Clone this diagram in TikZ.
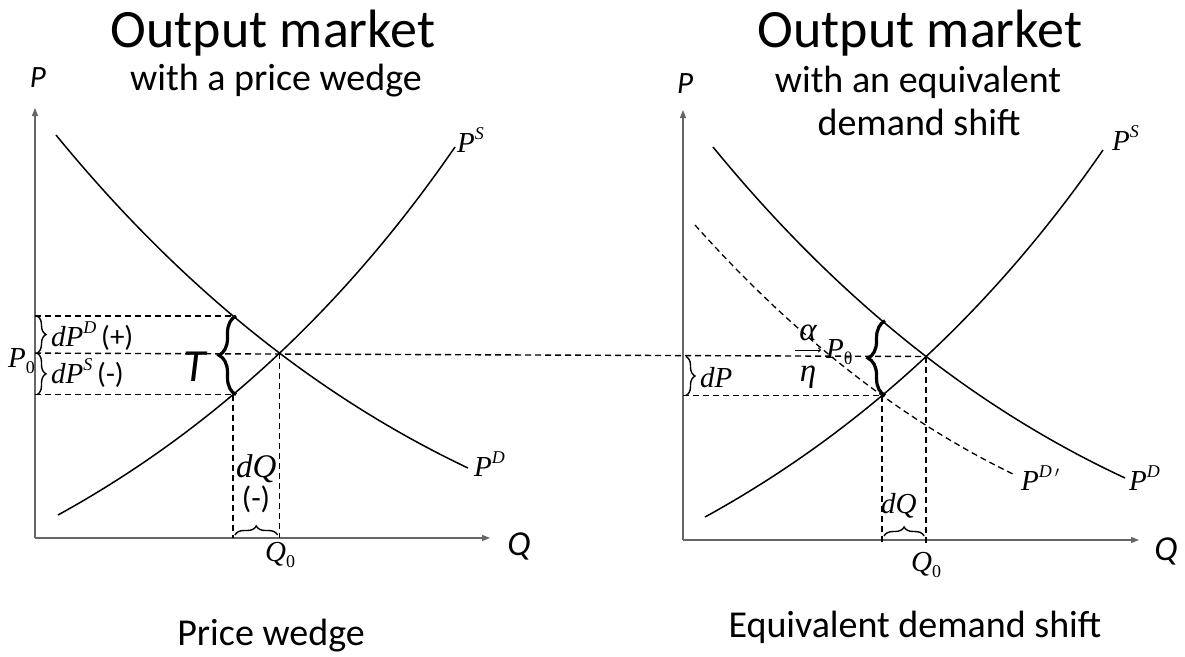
\documentclass[tikz,border=0pt]{standalone}
\usepackage{fontspec}
\usepackage{graphicx}
\setmainfont{Carlito}
\newfontfamily\tnr{Liberation Serif}
\usetikzlibrary{intersections,decorations.pathreplacing,arrows.meta,calc}
\newcommand\fsz[1]{\fontsize{#1}{#1}\selectfont}
\newcommand\sups[1]{\raisebox{0.42em}{\scalebox{0.62}{#1}}}
\newcommand\subs[1]{\raisebox{-0.22em}{\scalebox{0.62}{#1}}}
\begin{document}
\begin{tikzpicture}[x=1pt,y=-1pt,
 curve/.style={line width=1.5pt},
 dline/.style={line width=1.4pt, dash pattern=on 6pt off 4pt},
 axis/.style={line width=1.2pt, draw=black!60, -{Triangle[length=8pt,width=6pt]}},
 sbrace/.style={decorate, decoration={brace, amplitude=#1}, line width=1.4pt},
 bbrace/.style={decorate, decoration={brace, amplitude=17pt}, line width=3.2pt},
 ttl/.style={font=\fsz{54}, inner sep=0pt, anchor=base},
 subttl/.style={font=\fsz{38}, inner sep=0pt, anchor=base},
 bottomcap/.style={font=\fsz{38}, inner sep=0pt, anchor=base},
 axlab/.style={font=\fsz{31}\itshape, inner sep=0pt, anchor=base},
 lab/.style={font=\fsz{29}\tnr\itshape, inner sep=0pt, anchor=base west},
 sans/.style={font=\fsz{29}, inner sep=0pt, anchor=base}]
\useasboundingbox (0,0) rectangle (1185,656);
\fill[white] (0,0) rectangle (1185,656);
\coordinate (top) at (0,100);
\coordinate (bot) at (0,545);
% ---------- left chart ----------
\coordinate (LO) at (35,538);
\coordinate (LYt) at (35,108);
\coordinate (LXt) at (490,538);
\draw[axis] (LO) -- (LYt);
\draw[axis] (LO) -- (LXt);
\draw[curve, name path=LD] (56,135) .. controls (178.7,285) and (316,396) .. (468,468);
\draw[curve, name path=LS] (58,515) .. controls (212,430.3) and (344.3,307.7) .. (455,147);
\path[name intersections={of=LD and LS, by=LE}];
\path[name path=LV] (233,100) -- (233,545);
\path[name intersections={of=LV and LD, by=LD1}];
\path[name intersections={of=LV and LS, by=LS1}];
\coordinate (LbA) at (LO |- LD1);
\coordinate (LbB) at (LO |- LE);
\coordinate (LbC) at (LO |- LS1);
\coordinate (LqA) at (LS1 |- LO);
\coordinate (LqB) at (LE |- LO);
\draw[dline] (LbA) -- (LD1);
\draw[dline] (LbC) -- (LS1);
\draw[dline] (LS1) -- (LqA);
\draw[dline] (LE) -- (LqB);
\draw[sbrace=9pt] ($(LbA)+(2,0)$) -- ($(LbB)+(2,0)$);
\draw[sbrace=9pt] ($(LbB)+(2,0)$) -- ($(LbC)+(2,0)$);
\draw[bbrace] ($(LS1)+(3,0)$) -- ($(LD1)+(3,0)$);
\draw[sbrace=9pt] ($(LqA)+(2,-3)$) -- ($(LqB)+(-2,-3)$);
% ---------- right chart ----------
\coordinate (RO) at (683,540);
\coordinate (RYt) at (683,110);
\coordinate (RXt) at (1139,540);
\draw[axis] (RO) -- (RYt);
\draw[axis] (RO) -- (RXt);
\draw[curve, name path=RD] (713,147) .. controls (835.7,297) and (973,407.3) .. (1125,478);
\draw[curve, name path=RS] (705,517) .. controls (860.3,431.7) and (993,309.3) .. (1103,150);
\draw[dline, line width=1.3pt, name path=RDd] (695,225) .. controls (795,337) and (901.7,420.3) .. (1015,475);
\path[name intersections={of=RD and RS, by=RE}];
\path[name intersections={of=RDd and RS, by=RE1}];
\path[name path=RV] (RE1 |- top) -- (RE1 |- bot);
\path[name intersections={of=RV and RD, by=RD1}];
\coordinate (RbA) at (RO |- RE);
\coordinate (RbB) at (RO |- RE1);
\coordinate (RqA) at (RE1 |- RO);
\coordinate (RqB) at (RE |- RO);
\draw[dline] (LbB) -- (RE);
\draw[dline] (RbB) -- (RE1);
\draw[dline] (RE1) -- (RE1 |- bot);
\draw[dline] (RE) -- (RE |- bot);
\draw[sbrace=9pt] ($(RbA)+(3,0)$) -- ($(RbB)+(3,0)$);
\draw[bbrace] ($(RE1)+(3,0)$) -- ($(RD1)+(3,0)$);
\draw[sbrace=9pt] ($(RqA)+(2,-4)$) -- ($(RqB)+(-2,-4)$);
\coordinate (aa) at (795,350);
\coordinate (ab) at (821,350);
\draw[line width=1pt, -{To[length=3pt,width=5pt]}] (aa) -- (ab);
% ---------- texts ----------
\node[ttl] (t1L) at (273,47) {Output market};
\node[subttl] (t2L) at (276,90) {with a price wedge};
\node[ttl] (t1R) at (920,47) {Output market};
\node[subttl] (t2R) at (918,92) {with an equivalent};
\node[subttl] (t3R) at (919,135) {demand shift};
\node[bottomcap] (cL) at (271,645) {Price wedge};
\node[bottomcap] (cR) at (915,637) {Equivalent demand shift};
\node[axlab] (PL) at (38,87) {P};
\node[axlab, font=\fsz{35}\itshape] (QL) at (519,555) {Q};
\node[axlab] (PR) at (685,93) {P};
\node[axlab, font=\fsz{35}\itshape] (QR) at (1166,560) {Q};
\node[lab] (PSL) at (457,152) {P\sups{S}};
\node[lab] (PDL) at (474,476) {P\sups{D}};
\node[lab] (P0L) at (8,367) {P\subs{\upshape 0}};
\node[lab] (dPD) at (51,346) {dP\sups{D}\,{\normalfont(+)}};
\node[lab] (dPS) at (51,383) {dP\sups{S}\,{\normalfont(-)}};
\node[inner sep=0pt, anchor=base west, font=\fsz{46}\itshape] (T) at (183,381) {T};
\node[lab, font=\fsz{33}\tnr\itshape] (dQL) at (236,477) {dQ};
\node[sans, font=\fsz{31}] (mQL) at (256,508) {(-)};
\node[lab] (Q0L) at (265,561) {Q\subs{\upshape 0}};
\node[lab] (PSR) at (1112,150) {P\sups{S}};
\node[lab] (PDR) at (1129,490) {P\sups{D}};
\node[lab] (PDdR) at (1021,490) {P\sups{D\,$\prime$}};
\node[lab] (dPR) at (700,387) {dP};
\node[lab, anchor=base, font=\fsz{33}\tnr\itshape] (al) at (808,340) {α};
\node[lab] (Pth) at (826,358) {P\subs{\upshape θ}};
\node[lab, anchor=base, font=\fsz{33}\tnr\itshape] (eta) at (808,381) {η};
\node[lab] (dQR) at (881,513) {dQ};
\node[lab] (Q0R) at (911,571) {Q\subs{\upshape 0}};
\end{tikzpicture}
\end{document}
